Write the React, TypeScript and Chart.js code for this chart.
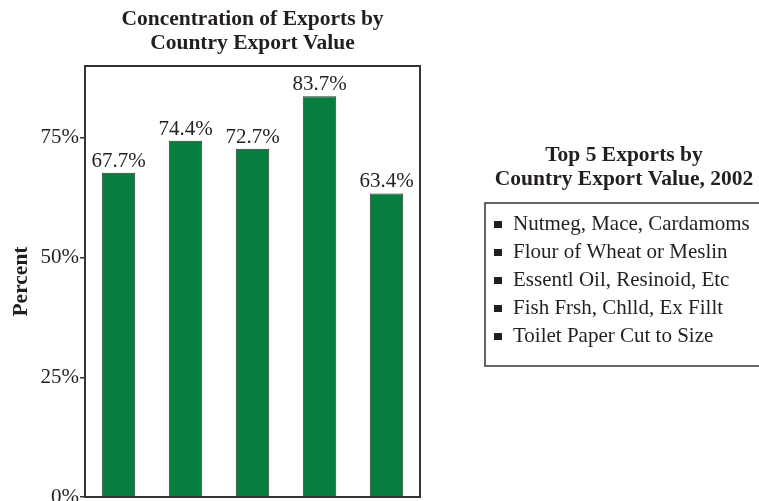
import React, { useEffect, useRef } from "react";
import { Chart, registerables } from "chart.js";

Chart.register(...registerables);

const categories = ["Nutmeg, Mace, Cardamoms", "Flour of Wheat or Meslin", "Essentl Oil, Resinoid, Etc", "Fish Frsh, Chlld, Ex Fillt", "Toilet Paper Cut to Size"];
const values = [67.7, 74.4, 72.7, 83.7, 63.4];
const tickValues = [0, 25, 50, 75];
const tickLabels = ["0%", "25%", "50%", "75%"];
const chartTitle = ["Concentration of Exports by", "Country Export Value"];
const legendTitle = ["Top 5 Exports by", "Country Export Value, 2002"];
const yTitle = "Percent";

const SERIF = '"Liberation Serif", "Times New Roman", serif';
const GREEN = "#087d40";
const INK = "#231f20";
const FRAME = "#333333";

const decorPlugin = {
  id: "decor",
  afterDatasetsDraw(chart: any) {
    const ctx = chart.ctx;
    const { left, right, top, bottom } = chart.chartArea;
    ctx.save();
    // frame
    ctx.strokeStyle = FRAME;
    ctx.lineWidth = 2;
    ctx.strokeRect(left, top, right - left, bottom - top);
    // value labels
    const meta = chart.getDatasetMeta(0);
    ctx.fillStyle = INK;
    ctx.font = `21px ${SERIF}`;
    ctx.textAlign = "center";
    ctx.textBaseline = "alphabetic";
    meta.data.forEach((bar: any, i: number) => {
      ctx.fillText(values[i].toFixed(1) + "%", bar.x, bar.y - 6);
    });
    // legend
    const lx = 485, ly = 203, lw = 290, lh = 163;
    const cx = 624;
    ctx.font = `bold 21.5px ${SERIF}`;
    ctx.textAlign = "center";
    legendTitle.forEach((t, i) => ctx.fillText(t, cx, 161 + i * 24));
    ctx.lineWidth = 1.5;
    ctx.strokeStyle = FRAME;
    ctx.strokeRect(lx, ly, lw, lh);
    ctx.font = `21px ${SERIF}`;
    ctx.textAlign = "left";
    categories.forEach((c, i) => {
      const by = 230 + i * 28;
      ctx.fillStyle = INK;
      ctx.fillRect(494, by - 9, 8, 7);
      ctx.fillText(c, 513, by);
    });
    ctx.restore();
  },
};

export default function App() {
  const ref = useRef<HTMLCanvasElement>(null);
  useEffect(() => {
    if (!ref.current) return;
    const chart = new Chart(ref.current, {
      type: "bar",
      data: {
        labels: categories,
        datasets: [
          {
            data: values,
            backgroundColor: GREEN,
            borderColor: FRAME,
            borderWidth: 1,
            barPercentage: 0.5,
            categoryPercentage: 1,
          },
        ],
      },
      options: {
        animation: false,
        responsive: false,
        maintainAspectRatio: false,
        layout: { padding: { left: 0, right: 339, top: 0, bottom: 4 }, autoPadding: false },
        plugins: {
          legend: { display: false },
          tooltip: { enabled: false },
          title: {
            display: true,
            fullSize: false,
            text: chartTitle,
            color: INK,
            font: { family: SERIF, size: 21.5, weight: "bold", lineHeight: 24 / 21.5 },
            padding: { top: 7.5, bottom: 10.5 },
          },
        },
        scales: {
          x: { display: false },
          y: {
            min: 0,
            max: 90,
            afterBuildTicks: (axis: any) => {
              axis.ticks = tickValues.map((v) => ({ value: v }));
            },
            afterFit: (axis: any) => {
              axis.width = 85;
              axis.paddingTop = 0;
              axis.paddingBottom = 0;
            },
            ticks: {
              color: INK,
              font: { family: SERIF, size: 21 },
              padding: 1,
              callback: (v: any) => {
                const i = tickValues.indexOf(Number(v));
                return i >= 0 ? tickLabels[i] : "";
              },
            },
            grid: { drawOnChartArea: false, drawTicks: true, tickLength: 5, color: FRAME, lineWidth: 1.5 },
            border: { display: true, color: FRAME, width: 2 },
            title: {
              display: true,
              text: yTitle,
              color: INK,
              font: { family: SERIF, size: 21.5, weight: "bold" },
              padding: { top: 8.5, bottom: 0 },
            },
          },
        },
      },
      plugins: [decorPlugin],
    } as any);
    return () => chart.destroy();
  }, []);
  return (
    <div style={{ position: "absolute", left: 0, top: 0, width: 759, height: 501, background: "#fff" }}>
      <canvas ref={ref} width={759} height={501} style={{ display: "block" }} />
    </div>
  );
}
